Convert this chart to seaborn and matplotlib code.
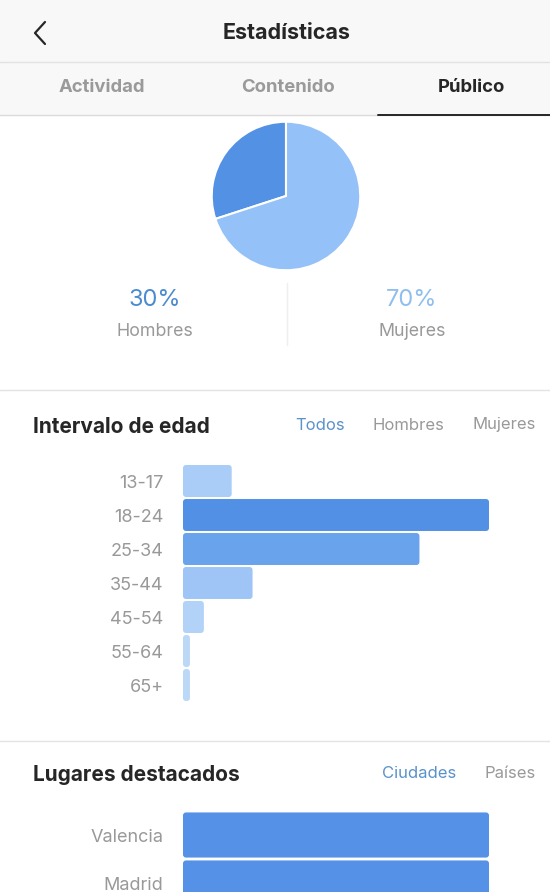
import matplotlib
matplotlib.use("Agg")
import matplotlib.pyplot as plt
from matplotlib.patches import FancyBboxPatch
import seaborn as sns

# data
gender_labels = ["Hombres", "Mujeres"]
gender_share = [30, 70]

age_groups = ["13-17", "18-24", "25-34", "35-44", "45-54", "55-64", "65+"]
age_share = [7, 44, 34, 10, 3, 1, 1]

cities = ["Valencia", "Madrid"]
city_share = [22, 22]

tabs = ["Actividad", "Contenido", "Público"]

# style
W, H = 550, 892
DARK = "#262626"
GREY = "#999999"
BLUE_TXT = "#5b92c9"
pie_colors = ["#5391e4", "#94c1f7"]
age_colors = ["#a9cdf7", "#5190e4", "#69a3ec", "#9ec5f5", "#b2d2f8", "#bcd8f7", "#bcd8f7"]
city_colors = ["#5591e6", "#5591e6"]
FONT = ["Inter", "DejaVu Sans"]

sns.set_theme(style="white")
plt.rcParams["font.family"] = FONT


def fx(x):
    return x / W


def fy(y):
    return 1 - y / H


def box(left, top, width, height):
    return [fx(left), fy(top + height), width / W, height / H]


fig = plt.figure(figsize=(W / 100, H / 100), dpi=100)
fig.patch.set_facecolor("white")

# header band
hdr = fig.add_axes(box(0, 0, W, 115))
hdr.set_facecolor("#f8f8f8")
hdr.set_xticks([])
hdr.set_yticks([])
for s in hdr.spines.values():
    s.set_visible(False)
hdr.set_zorder(-1)

fig.add_artist(plt.Line2D([0, 1], [fy(62), fy(62)], color="#e2e2e2", lw=1))
fig.add_artist(plt.Line2D([0, 1], [fy(115), fy(115)], color="#dbdbdb", lw=1))
fig.add_artist(plt.Line2D([fx(378), 1], [fy(115), fy(115)], color=DARK, lw=1.4))
fig.add_artist(plt.Line2D([fx(45), fx(35), fx(45)], [fy(22), fy(33), fy(44)],
                          color=DARK, lw=1.6, solid_capstyle="round"))
fig.text(fx(287), fy(33), "Estadísticas", ha="center", va="center",
         fontsize=15.5, fontweight="bold", color=DARK)
for name, x in zip(tabs, [102, 288, 471]):
    fig.text(fx(x), fy(87), name, ha="center", va="center", fontsize=13.3,
             fontweight="bold", color=DARK if name == "Público" else "#9a9a9a")

# gender pie
pax = fig.add_axes(box(211, 121, 150, 150))
pax.pie(gender_share, colors=pie_colors, startangle=90, counterclock=True,
        wedgeprops=dict(edgecolor="white", linewidth=1.5))
pax.set_xlim(-1.01, 1.01)
pax.set_ylim(-1.01, 1.01)
pax.set_aspect("equal")

fig.text(fx(155), fy(300), f"{gender_share[0]}%", ha="center", va="center",
         fontsize=17, color="#4b8bd0")
fig.text(fx(412), fy(300), f"{gender_share[1]}%", ha="center", va="center",
         fontsize=17, color="#90bfee")
fig.text(fx(155), fy(331), gender_labels[0], ha="center", va="center",
         fontsize=12.8, color=GREY)
fig.text(fx(412), fy(331), gender_labels[1], ha="center", va="center",
         fontsize=12.8, color=GREY)
fig.add_artist(plt.Line2D([fx(287), fx(287)], [fy(283), fy(345)], color="#efefef", lw=1))

fig.add_artist(plt.Line2D([0, 1], [fy(390), fy(390)], color="#e3e3e3", lw=1))
fig.add_artist(plt.Line2D([0, 1], [fy(741), fy(741)], color="#e3e3e3", lw=1))

# age section
fig.text(fx(33), fy(427), "Intervalo de edad", ha="left", va="center",
         fontsize=15, fontweight="bold", color=DARK)
for name, x, c in zip(["Todos", "Hombres", "Mujeres"], [320, 408, 504],
                      [BLUE_TXT, GREY, GREY]):
    fig.text(fx(x), fy(425), name, ha="center", va="center", fontsize=12, color=c)


def hbars(ax, values, labels, colors, px_w, px_h, radius=3):
    sns.barplot(x=values, y=labels, hue=labels, palette=colors, legend=False,
                orient="h", width=0.94, saturation=1, ax=ax)
    ax.set_xlim(0, max(values))
    ax.set_ylim(len(values) - 0.5, -0.5)
    ax.set_xlabel("")
    ax.set_ylabel("")
    ax.set_xticks([])
    ax.tick_params(axis="y", length=0, pad=14, labelsize=13, labelcolor=GREY)
    for lbl in ax.get_yticklabels():
        lbl.set_family(FONT)
    for s in ax.spines.values():
        s.set_visible(False)
    ax.set_facecolor("none")
    # rounded corners: swap each bar for a rounded box of the same extent
    ux = px_w / max(values)           # px per x unit
    uy = px_h / len(values)           # px per y unit
    for bar in list(ax.patches):
        x0, y0 = bar.get_x(), bar.get_y()
        w, h = bar.get_width(), bar.get_height()
        rr = FancyBboxPatch((x0, y0), w, h,
                            boxstyle=f"round,pad=0,rounding_size={radius / ux}",
                            mutation_aspect=ux / uy,
                            facecolor=bar.get_facecolor(), edgecolor="none")
        bar.remove()
        ax.add_patch(rr)


aax = fig.add_axes(box(183, 464, 306, 238))
hbars(aax, age_share, age_groups, age_colors, 306, 238)

# places section
fig.text(fx(33), fy(775), "Lugares destacados", ha="left", va="center",
         fontsize=15, fontweight="bold", color=DARK)
fig.text(fx(419), fy(773), "Ciudades", ha="center", va="center", fontsize=12, color=BLUE_TXT)
fig.text(fx(510), fy(773), "Países", ha="center", va="center", fontsize=12, color=GREY)

cax = fig.add_axes(box(183, 811, 306, 96))
hbars(cax, city_share, cities, city_colors, 306, 96)

fig.savefig("out.png", dpi=100)
